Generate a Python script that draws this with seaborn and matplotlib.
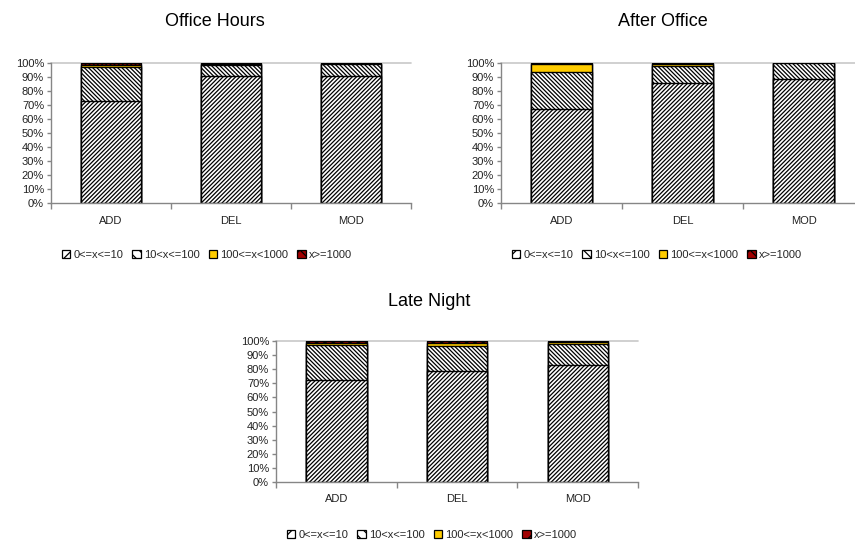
import matplotlib
matplotlib.use("Agg")
import matplotlib.pyplot as plt
from matplotlib.patches import Patch
from matplotlib.ticker import PercentFormatter, FixedLocator, MultipleLocator
import numpy as np
import seaborn as sns

sns.set_theme(style="white")
plt.rcParams["font.family"] = ["Liberation Sans", "DejaVu Sans"]
plt.rcParams["hatch.linewidth"] = 0.9

categories = ["ADD", "DEL", "MOD"]
series_names = ["0<=x<=10", "10<x<=100", "100<=x<1000", "x>=1000"]

# share of requests (%) per latency bucket, one list per bucket
office_small = [73.0, 90.5, 90.5]
office_medium = [24.5, 8.0, 8.8]
office_large = [1.0, 1.0, 0.0]
office_huge = [1.5, 0.5, 0.7]

after_small = [67.0, 85.5, 88.5]
after_medium = [26.5, 12.5, 11.5]
after_large = [5.5, 1.3, 0.0]
after_huge = [1.0, 0.7, 0.0]

night_small = [72.5, 79.0, 83.0]
night_medium = [25.0, 17.5, 15.0]
night_large = [1.2, 2.0, 1.5]
night_huge = [1.3, 1.5, 0.5]

panels = [
    ("Office Hours", [office_small, office_medium, office_large, office_huge]),
    ("After Office", [after_small, after_medium, after_large, after_huge]),
    ("Late Night", [night_small, night_medium, night_large, night_huge]),
]

styles = [
    dict(facecolor="white", hatch="/" * 8, legend_hatch="///"),
    dict(facecolor="white", hatch="\\" * 8, legend_hatch="\\\\\\"),
    dict(facecolor="#FFCC00", hatch=None, legend_hatch=None),
    dict(facecolor="#A00000", hatch="xxxx", legend_hatch="xx"),
]

W, H = 855, 540
fig = plt.figure(figsize=(W / 100, H / 100), dpi=100)

# axes boxes in pixels: left, top, right, bottom
boxes = [(51, 63, 411, 203.5), (501, 63, 864, 203.5), (276, 341, 638, 482)]
title_pos = [(215, 22), (663, 22), (429, 301)]
legend_pos = [(207, 255), (657, 255), (432, 535)]

axis_gray = "#868686"

for (title, series), (l, t, r, b), (tx, ty), (lx, ly) in zip(panels, boxes, title_pos, legend_pos):
    ax = fig.add_axes([l / W, 1 - b / H, (r - l) / W, (b - t) / H])
    stacks = np.cumsum(np.array(series), axis=0) / 100.0
    # draw the tallest stack first so each lower bucket sits on top of it
    for k in range(len(series) - 1, -1, -1):
        st = styles[k]
        sns.barplot(x=categories, y=stacks[k], ax=ax, color=st["facecolor"],
                    saturation=1, width=0.5, edgecolor="black", linewidth=1.0,
                    hatch=st["hatch"])
    ax.set_xlim(-0.5, 2.5)
    ax.set_ylim(0, 1.0)
    ax.yaxis.set_major_locator(MultipleLocator(0.1))
    ax.yaxis.set_major_formatter(PercentFormatter(1.0, decimals=0))
    ax.axhline(1.0, color="#C8C8C8", lw=1.2, zorder=0, clip_on=False)
    for side in ("top", "right"):
        ax.spines[side].set_visible(False)
    for side in ("left", "bottom"):
        ax.spines[side].set_color(axis_gray)
        ax.spines[side].set_linewidth(1.0)
    ax.tick_params(axis="y", which="major", left=True, length=3, width=1,
                   color=axis_gray, labelsize=8, labelcolor="#222222", pad=2)
    ax.tick_params(axis="x", which="major", bottom=False, labelsize=8,
                   labelcolor="#222222", pad=3)
    ax.xaxis.set_minor_locator(FixedLocator([-0.5, 0.5, 1.5, 2.5]))
    ax.tick_params(axis="x", which="minor", bottom=True, length=4, width=1,
                   color=axis_gray)
    ax.set_xlabel("")
    ax.set_ylabel("")
    ax.grid(False)

    fig.text(tx / W, 1 - ty / H, title, ha="center", va="center",
             fontsize=13, color="black")

    handles = [Patch(facecolor=s["facecolor"], edgecolor="black",
                     hatch=s["legend_hatch"], linewidth=0.9)
               for s in styles]
    fig.legend(handles, series_names, loc="center", bbox_to_anchor=(lx / W, 1 - ly / H),
               ncol=4, frameon=False, fontsize=8, handlelength=0.75,
               handleheight=0.75, handletextpad=0.3, columnspacing=0.8,
               borderpad=0, borderaxespad=0)

fig.savefig("out.png", dpi=100, facecolor="white")
